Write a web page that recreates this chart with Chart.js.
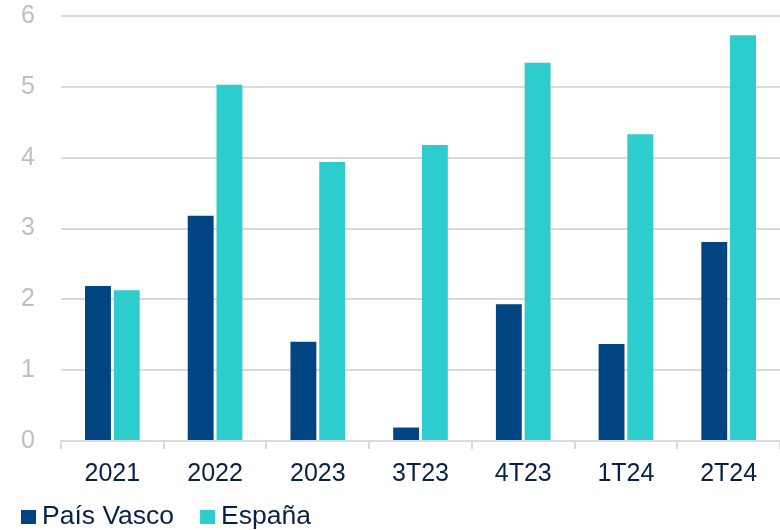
<!DOCTYPE html>
<html>
<head>
<meta charset="utf-8">
<script src="https://cdn.jsdelivr.net/npm/chart.js@4/dist/chart.umd.min.js"></script>
<style>
  html, body { margin: 0; padding: 0; background: #ffffff; }
  #wrap { width: 780px; height: 530px; position: relative; }
</style>
</head>
<body>
<div id="wrap"><canvas id="c" width="780" height="530"></canvas></div>
<script>
const categories = ['2021', '2022', '2023', '3T23', '4T23', '1T24', '2T24'];
const paisVasco = [2.19, 3.18, 1.40, 0.19, 1.93, 1.37, 2.81];
const espana    = [2.13, 5.03, 3.94, 4.18, 5.34, 4.33, 5.73];
const yTicks    = [0, 1, 2, 3, 4, 5, 6];

const font = 'Liberation Sans, Arial, Helvetica, sans-serif';
const textColor = '#072146';

// Legend row under the axis: square swatch followed closely by the series name
const bottomLegend = {
  id: 'bottomLegend',
  afterDraw(chart) {
    const ctx = chart.ctx;
    ctx.save();
    ctx.font = '26.5px ' + font;
    ctx.textBaseline = 'middle';
    ctx.textAlign = 'left';
    let x = 21;
    const y = 517;
    chart.data.datasets.forEach(ds => {
      ctx.fillStyle = ds.backgroundColor;
      ctx.fillRect(x, y - 7, 15, 14);
      ctx.fillStyle = textColor;
      ctx.fillText(ds.label, x + 21, y);
      x += 21 + ctx.measureText(ds.label).width + 26;
    });
    ctx.restore();
  }
};

new Chart(document.getElementById('c'), {
  type: 'bar',
  data: {
    labels: categories,
    datasets: [
      { label: 'País Vasco', data: paisVasco, backgroundColor: '#004481',
        barPercentage: 0.9, categoryPercentage: 0.56 },
      { label: 'España', data: espana, backgroundColor: '#2DCCCD',
        barPercentage: 0.9, categoryPercentage: 0.56 }
    ]
  },
  plugins: [bottomLegend],
  options: {
    responsive: false,
    animation: false,
    devicePixelRatio: 1,
    layout: { padding: { left: 21, right: 0, top: 0, bottom: 31 } },
    plugins: {
      tooltip: { enabled: false },
      legend: { display: false }
    },
    scales: {
      x: {
        grid: { display: true, drawOnChartArea: false, offset: true,
                color: '#D9D9D9', lineWidth: 2, tickLength: 8 },
        border: { display: true, color: '#D9D9D9', width: 2 },
        ticks: { color: textColor, font: { family: font, size: 25 }, padding: 10 }
      },
      y: {
        min: 0,
        max: 6,
        afterBuildTicks: (axis) => { axis.ticks = yTicks.map(v => ({ value: v })); },
        afterFit: (scale) => { scale.width = 40; },
        grid: { color: '#D9D9D9', lineWidth: 2, drawTicks: false },
        border: { display: false },
        ticks: { color: '#BFBFBF', font: { family: font, size: 25 }, padding: 1,
                 crossAlign: 'far' }
      }
    }
  }
});
</script>
</body>
</html>
